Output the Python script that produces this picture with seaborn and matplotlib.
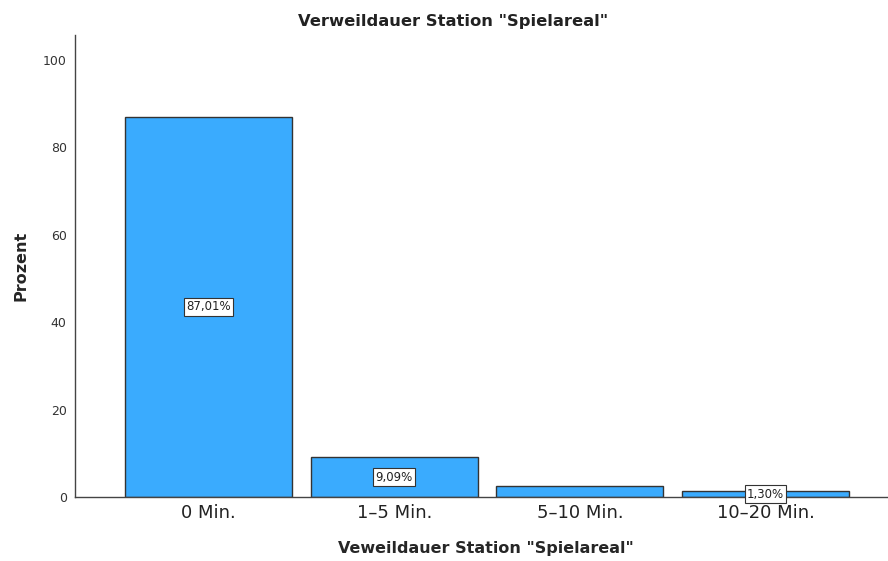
import matplotlib
matplotlib.use("Agg")
import matplotlib.pyplot as plt
import pandas as pd
import seaborn as sns

categories = ["0 Min.", "1–5 Min.", "5–10 Min.", "10–20 Min."]
percent = [87.01, 9.09, 2.60, 1.30]
bar_labels = ["87,01%", "9,09%", "", "1,30%"]
y_ticks = [0, 20, 40, 60, 80, 100]

df = pd.DataFrame({"Kategorie": categories, "Prozent": percent})

sns.set_style("white")
plt.rcParams["font.family"] = ["DejaVu Sans"]

fig = plt.figure(figsize=(8.88, 5.61), dpi=100)
ax = fig.add_axes([0.0845, 0.114, 0.9155, 0.8236])

sns.barplot(
    data=df, x="Kategorie", y="Prozent", order=categories,
    color="#3aabfe", saturation=1, width=0.9,
    edgecolor="#333333", linewidth=1.0, ax=ax,
)

for i, (val, lab) in enumerate(zip(percent, bar_labels)):
    if lab:
        ax.text(i, val / 2, lab, ha="center", va="center", fontsize=8.5,
                color="#222222",
                bbox=dict(boxstyle="square,pad=0.2", fc="white",
                          ec="#333333", lw=0.8))

ax.set_xlim(-0.72, 3.66)
ax.set_ylim(0, 105.7)
ax.set_yticks(y_ticks)
ax.tick_params(axis="y", labelsize=9, length=0, pad=6, colors="#333333")
ax.tick_params(axis="x", labelsize=13, length=0, pad=5, colors="#222222")
sns.despine(ax=ax, top=True, right=True)
for side in ("left", "bottom"):
    ax.spines[side].set_color("#444444")
    ax.spines[side].set_linewidth(1.0)

# SPSS centres the title over the whole chart, not over the axes
fig.text(0.51, 0.962, 'Verweildauer Station "Spielareal"', fontsize=11.8,
         fontweight="bold", ha="center", va="center", color="#222222")
ax.set_xlabel('Veweildauer Station "Spielareal"', fontsize=11.5,
              fontweight="bold", labelpad=12)
ax.xaxis.set_label_coords(0.505, -0.095)
ax.set_ylabel("Prozent", fontsize=11.5, fontweight="bold", labelpad=10)

fig.savefig("out.png", dpi=100)
